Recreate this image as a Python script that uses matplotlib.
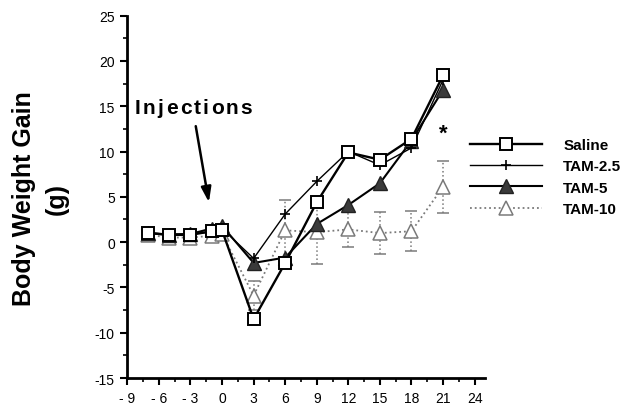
import matplotlib
matplotlib.use("Agg")
import matplotlib.pyplot as plt
from matplotlib.lines import Line2D
from matplotlib.ticker import MultipleLocator, FixedLocator, FixedFormatter

plt.rcParams['font.family'] = ['Liberation Sans', 'DejaVu Sans']
plt.rcParams['axes.unicode_minus'] = False

days = [-7, -5, -3, -1, 0, 3, 6, 9, 12, 15, 18, 21]
saline = [1.0, 0.8, 0.8, 1.2, 1.3, -8.5, -2.3, 4.4, 9.9, 9.1, 11.4, 18.4]
tam25 = [1.0, 0.9, 0.9, 1.1, 1.5, -1.8, 3.1, 6.7, 10.0, 8.5, 10.4, 17.9]
tam5 = [1.0, 0.8, 0.9, 1.5, 1.8, -2.3, -1.7, 2.0, 4.1, 6.5, 11.2, 16.8]
tam10 = [0.8, 0.5, 0.5, 0.7, 0.9, -5.9, 1.3, 1.1, 1.4, 1.0, 1.2, 6.1]
tam10_err = [0.4, 0.4, 0.4, 0.4, 0.4, 1.6, 3.3, 3.5, 1.9, 2.3, 2.2, 2.9]
series_names = ['Saline', 'TAM-2.5', 'TAM-5', 'TAM-10']

xticks = [-9, -6, -3, 0, 3, 6, 9, 12, 15, 18, 21, 24]
xticklabels = ['- 9', '- 6', '- 3', '0', '3', '6', '9', '12', '15', '18', '21', '24']
yticks = [-15, -10, -5, 0, 5, 10, 15, 20, 25]
yticklabels = ['-15', '-10', '-5', '0', '5', '10', '15', '20', '25']

fig = plt.figure(figsize=(6.4, 4.06), dpi=100)
ax = fig.add_axes([0.199, 0.0665, 0.559, 0.8925])

gray = '#7a7a7a'
styles = {
    'TAM-10': dict(color=gray, linestyle=':', linewidth=1.3, marker='^', markersize=10,
                   markerfacecolor='white', markeredgecolor=gray, markeredgewidth=1.1),
    'TAM-5': dict(color='black', linewidth=1.5, marker='^', markersize=10,
                  markerfacecolor='#3a3a3a', markeredgecolor='#222222', markeredgewidth=1.0),
    'TAM-2.5': dict(color='black', linewidth=1.0, marker='+', markersize=7, markeredgewidth=1.2),
    'Saline': dict(color='black', linewidth=1.7, marker='s', markersize=8,
                   markerfacecolor='white', markeredgecolor='black', markeredgewidth=1.4),
}

eb = ax.errorbar(days, tam10, yerr=tam10_err, ecolor=gray, elinewidth=1.1, capsize=4,
                 capthick=1.0, zorder=2, **styles['TAM-10'])
for c in eb[2]:
    c.set_linestyle(':')
ax.plot(days, tam5, zorder=3, **styles['TAM-5'])
ax.plot(days, tam25, zorder=4, **styles['TAM-2.5'])
ax.plot(days, saline, zorder=5, **styles['Saline'])

ax.set_xlim(-9, 25)
ax.set_ylim(-15, 25)
ax.xaxis.set_major_locator(FixedLocator(xticks))
ax.xaxis.set_major_formatter(FixedFormatter(xticklabels))
ax.xaxis.set_minor_locator(MultipleLocator(1.5))
ax.yaxis.set_major_locator(FixedLocator(yticks))
ax.yaxis.set_major_formatter(FixedFormatter(yticklabels))
ax.yaxis.set_minor_locator(MultipleLocator(2.5))
for s in ['top', 'right']:
    ax.spines[s].set_visible(False)
for s in ['left', 'bottom']:
    ax.spines[s].set_linewidth(2.0)
ax.tick_params(which='major', length=5, width=1.5, labelsize=10, pad=4)
ax.tick_params(which='minor', length=3, width=1.2)

fig.text(0.0625, 0.51, 'Body Weight Gain\n(g)', rotation=90, fontsize=18,
         fontweight='bold', ha='center', va='center', linespacing=1.45,
         multialignment='center')

# Injections label with letter spacing
fig.canvas.draw()
r = fig.canvas.get_renderer()
x0 = 135
yb = 406 - 114
for ch in 'Injections':
    t = fig.text(x0 / 640, yb / 406, ch, fontsize=15, fontweight='bold', ha='left', va='baseline')
    w = t.get_window_extent(r).width
    x0 += w + 2.2

ax.annotate('', xy=(-1.25, 4.4), xytext=(-2.5, 12.8),
            arrowprops=dict(arrowstyle='-|>,head_length=0.9,head_width=0.3', color='black',
                            lw=1.8, shrinkA=0, shrinkB=0))

ax.text(21, 12.0, '*', fontsize=16, fontweight='bold', ha='center', va='center')

handles = [Line2D([], [], **styles[n]) for n in series_names]
leg = fig.legend(handles, series_names,
                 loc='upper left', bbox_to_anchor=(470 / 640, 1 - 139 / 406),
                 frameon=False, numpoints=1, handlelength=4.7, handletextpad=1.4,
                 labelspacing=0.48, borderpad=0, borderaxespad=0,
                 prop={'weight': 'bold', 'size': 11})

fig.savefig('out.png', dpi=100)
